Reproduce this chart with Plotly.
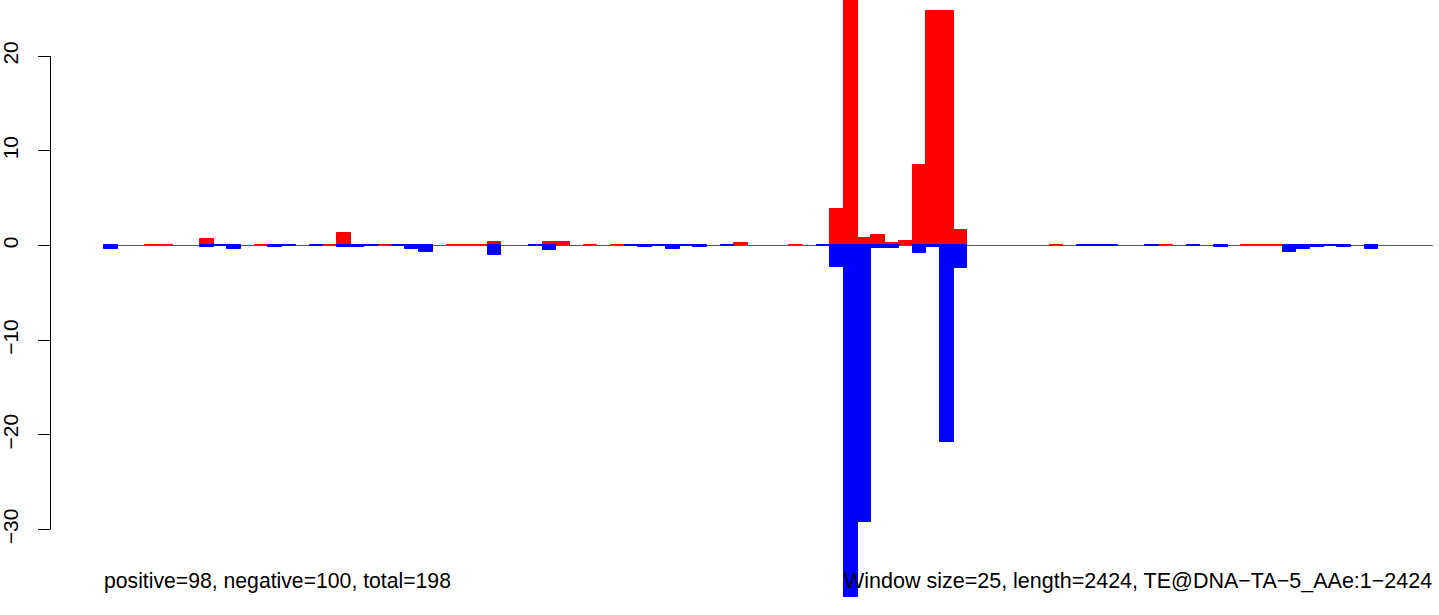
import plotly.graph_objects as go

# ---- data ----
WINDOW = 25
LENGTH = 2424
T = 0.02  # tiny values drawn as a hairline

positive = [
    0, 0, 0, T, T, 0, 0, 0.64, 0, 0,            # 0-9
    0, T, 0.10, 0, 0, 0, T, 1.27, 0, 0.10,      # 10-19
    0.10, 0, 0.10, 0.10, 0, 0.10, T, 0.10, 0.32, 0,  # 20-29
    0, 0.10, 0.32, 0.32, 0, 0.10, 0, T, 0, 0.10,     # 30-39
    0, 0.10, 0, 0, 0, 0, 0.21, 0, 0, 0,          # 40-49
    T, 0, 0, 3.85, 28.0, 0.79, 1.11, 0.26, 0.51, 8.53,  # 50-59
    24.76, 24.76, 1.67, 0, 0, 0, 0, 0, 0, T,     # 60-69
    0, 0, 0.10, 0, 0, 0, 0, T, 0, 0.10,          # 70-79
    0, 0, 0, T, T, T, 0, 0, 0.10, 0,             # 80-89
    0, 0, 0.10, 0, 0, 0, 0,                      # 90-96
]

negative = [
    -0.42, 0, 0, 0, 0, 0, 0, -0.18, -T, -0.32,   # 0-9
    0, 0, -0.18, -T, 0, -T, 0, -0.18, -0.18, -T,  # 10-19
    0, -T, -0.32, -0.64, 0, 0, 0, 0, -0.96, 0,    # 20-29
    0, -T, -0.53, 0, 0, 0, 0, 0, -T, -0.18,       # 30-39
    -0.10, -0.32, -T, -0.18, 0, -T, 0, 0, 0, 0,   # 40-49
    0, 0, -T, -2.24, -37.1, -29.16, -0.26, -0.26, 0, -0.76,  # 50-59
    -0.20, -20.8, -2.34, 0, 0, 0, 0, 0, 0, 0,     # 60-69
    0, -T, -T, -T, 0, 0, -T, 0, 0, -T,            # 70-79
    0, -0.18, 0, 0, 0, 0, -0.74, -0.32, -0.18, -T,  # 80-89
    -0.18, 0, -0.32, 0, 0, 0, 0,                  # 90-96
]

y_ticks = [-30, -20, -10, 0, 10, 20]
left_text = "positive=98, negative=100, total=198"
right_text = "Window size=25, length=2424, TE@DNA\u2212TA\u22125_AAe:1\u22122424"

# ---- derived ----
centers = [WINDOW * k + WINDOW / 2 for k in range(len(positive))]
pos_y = [v if v != 0 else None for v in positive]
neg_y = [v if v != 0 else None for v in negative]

FONT = "Liberation Sans, Arial, Helvetica, sans-serif"
PLOT_W = 1439 - 51

fig = go.Figure()
fig.add_trace(go.Bar(
    x=centers, y=pos_y, width=WINDOW,
    marker=dict(color="#ff0000", line=dict(color="#ff0000", width=1)),
    hoverinfo="x+y", showlegend=False,
))
fig.add_trace(go.Bar(
    x=centers, y=neg_y, width=WINDOW,
    marker=dict(color="#0000ff", line=dict(color="#0000ff", width=1)),
    hoverinfo="x+y", showlegend=False,
))

# baseline
fig.add_shape(type="line", xref="x", yref="y", x0=0, x1=LENGTH, y0=0, y1=0,
              line=dict(color="#555555", width=1), layer="below")
# R-style y axis line (only spans the tick range), half-pixel offset for a crisp line
ax_x = -0.5 / PLOT_W
fig.add_shape(type="line", xref="paper", yref="y", x0=ax_x, x1=ax_x,
              y0=min(y_ticks), y1=max(y_ticks),
              line=dict(color="black", width=1))

fig.add_annotation(x=0, y=-35.45, xref="x", yref="y", text=left_text,
                   showarrow=False, xanchor="left", yanchor="middle", xshift=-2,
                   font=dict(family=FONT, size=21.2, color="black"))
fig.add_annotation(x=LENGTH, y=-35.45, xref="x", yref="y", text=right_text,
                   showarrow=False, xanchor="right", yanchor="middle", xshift=1,
                   font=dict(family=FONT, size=21.5, color="black"))

fig.update_layout(
    width=1439, height=615,
    margin=dict(l=51, r=0, t=0, b=0),
    paper_bgcolor="white", plot_bgcolor="white",
    barmode="overlay", bargap=0,
    font=dict(family=FONT, size=21, color="black"),
    xaxis=dict(range=[-96.7, 2435.5], visible=False, fixedrange=True),
    yaxis=dict(
        range=[-39.02, 25.92], showgrid=False, zeroline=False, showline=False,
        tickmode="array", tickvals=y_ticks, ticktext=[str(v).replace("-", "\u2212") for v in y_ticks],
        ticks="outside", ticklen=12, tickwidth=1, tickcolor="black",
        tickangle=-90, tickfont=dict(family=FONT, size=21, color="black"),
        ticklabelstandoff=12, automargin=False, fixedrange=True,
    ),
)

fig.write_html(
    "out.html",
    config={"displayModeBar": False},
    post_script="document.body.style.margin='0';document.body.style.overflow='hidden';",
)
